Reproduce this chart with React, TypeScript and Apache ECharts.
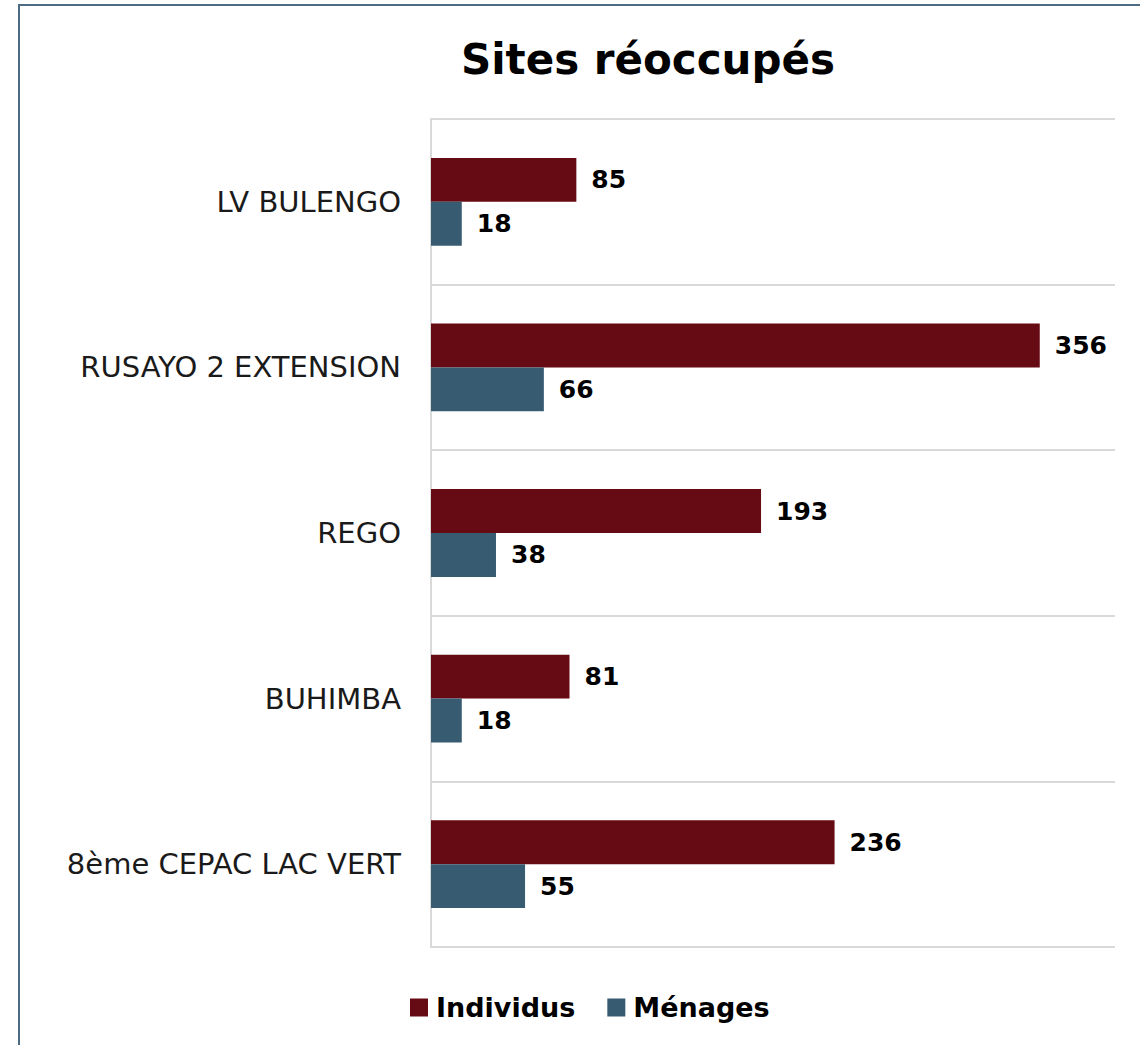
import React, { useEffect, useRef } from "react";
import * as echarts from "echarts";

const categories = ["LV BULENGO", "RUSAYO 2 EXTENSION", "REGO", "BUHIMBA", "8ème CEPAC LAC VERT"];
const individus = [85, 356, 193, 81, 236];
const menages = [18, 66, 38, 18, 55];
const seriesNames = ["Individus", "Ménages"];

const FONT = "'DejaVu Sans', sans-serif";

export default function App() {
  const ref = useRef<HTMLDivElement>(null);
  useEffect(() => {
    if (!ref.current) return;
    const chart = echarts.init(ref.current, null, { renderer: "svg" });
    const labelStyle = {
      show: true,
      position: "right",
      distance: 15,
      fontFamily: FONT,
      fontWeight: "bold",
      fontSize: 25,
      color: "#000",
    };
    chart.setOption({
      animation: false,
      backgroundColor: "#fff",
      title: {
        text: "Sites réoccupés",
        left: 643,
        top: 33,
        textAlign: "center",
        textStyle: { fontFamily: FONT, fontWeight: "bold", fontSize: 42, color: "#000" },
      },
      graphic: [
        {
          type: "rect",
          shape: { x: 19, y: 5, width: 1200, height: 1100 },
          style: { fill: "none", stroke: "#4D6B82", lineWidth: 2 },
          silent: true,
        },
      ],
      legend: {
        data: seriesNames,
        left: 405,
        top: 989,
        itemWidth: 18,
        itemHeight: 18,
        itemGap: 32,
        icon: "rect",
        textStyle: { fontFamily: FONT, fontWeight: "bold", fontSize: 27, color: "#000", padding: [0, 0, 0, 3] },
      },
      grid: { left: 431, top: 119, right: 25, bottom: 98, containLabel: false },
      xAxis: {
        type: "value",
        min: 0,
        max: 400,
        show: false,
        splitLine: { show: false },
      },
      yAxis: {
        type: "category",
        data: categories,
        inverse: true,
        axisLine: { show: true, lineStyle: { color: "#D9D9D9", width: 2 } },
        axisTick: { show: false },
        splitLine: { show: true, lineStyle: { color: "#D9D9D9", width: 2 } },
        axisLabel: { fontFamily: FONT, fontSize: 29, color: "#1a1a1a", margin: 30 },
      },
      series: [
        {
          name: seriesNames[0],
          type: "bar",
          data: individus,
          barGap: "0%",
          barCategoryGap: "47%",
          itemStyle: { color: "#660A14" },
          label: labelStyle,
        },
        {
          name: seriesNames[1],
          type: "bar",
          data: menages,
          itemStyle: { color: "#375B71" },
          label: labelStyle,
        },
      ],
    });
    return () => chart.dispose();
  }, []);
  return (
    <div
      ref={ref}
      style={{ position: "absolute", left: 0, top: 0, width: 1140, height: 1045 }}
    />
  );
}
